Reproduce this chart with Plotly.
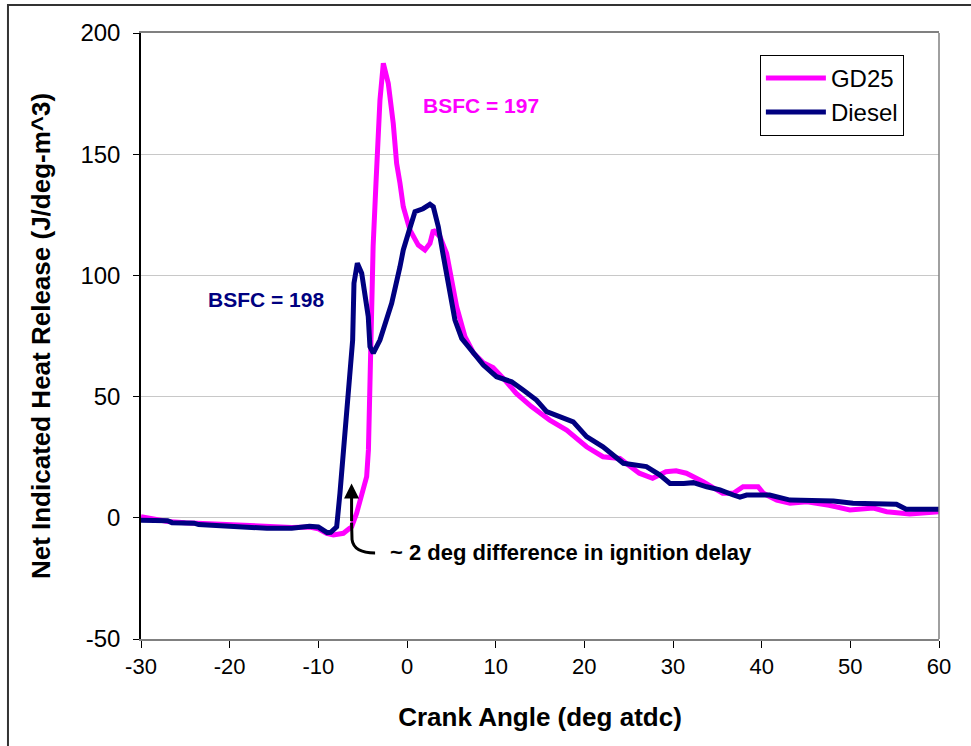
import plotly.graph_objects as go

# ---- data ----
diesel_x = [-30, -27, -26.5, -24, -23.5, -20, -17, -15.8, -13, -11, -10, -9.4, -9, -8.6, -8.2,
            -7.93, -7.56, -7.18, -6.8, -6.43, -6.13, -5.98, -5.6, -5.11, -4.74, -4.37, -4.18,
            -3.8, -3.05, -2.48, -1.73, -0.79, -0.42, 0.2, 0.9, 1.8, 2.59, 2.97, 3.53, 4.0, 4.47,
            5.0, 5.41, 6.17, 7.48, 8.61, 10.1, 11.8, 13.1, 14.6, 15.75, 17.25, 18.75, 20.25,
            22.1, 24.4, 27.0, 28.5, 29.66, 31.2, 32.3, 33.8, 35.3, 36.8, 37.55, 38.3, 40.9,
            43.2, 48.1, 50.3, 55.2, 56.3, 60]
diesel_y = [-1, -1.2, -2, -2.2, -2.8, -3.5, -3.8, -4.3, -4.3, -3.5, -3.8, -5.5, -6.1, -6, -5,
            -3.7, 10.2, 28, 41.7, 58, 73.3, 96.8, 105, 100.9, 92.6, 83, 70.6,
            67.9, 73.3, 80.2, 88.5, 103.6, 110.5, 118, 126.3, 127.5, 129.3, 128.3, 120.1, 110, 100.9,
            90, 81.6, 74, 67.9, 63, 58.2, 56.1, 52.7, 48.6, 43.8, 41.7, 39.6, 33.5,
            29.3, 22.5, 21.1, 17.7, 14.2, 14.2, 14.5, 12.8, 11.5, 9.4, 8.5, 9.4, 9.4,
            7.3, 6.9, 6.0, 5.6, 3.5, 3.5]

gd25_x = [-30, -27, -25, -22, -20, -17, -15, -13, -11, -10, -9.06, -8.3, -7.18, -6.24, -5.68,
          -5.11, -4.55, -4.35, -4.28, -4.22, -4.1, -3.98, -3.82, -3.5, -3.24, -3.05, -2.67,
          -2.11, -1.55, -1.17, -0.79, -0.42, 0.33, 1.27, 2.02, 2.59, 2.97, 3.72, 4.47, 5.04,
          5.6, 6.54, 7.5, 8.6, 9.7, 11, 12.3, 14, 16.1, 18.0, 20.25, 22.1, 24.0, 26.2, 27.7,
          29.2, 30.35, 31.5, 33.4, 35.6, 36.8, 37.9, 39.6, 40.2, 41.7, 43.2, 45.1, 47.6,
          49.95, 52.6, 54.1, 56.7, 60]
gd25_y = [0.5, -1.5, -2, -2.5, -3, -3.5, -4, -4, -3.8, -4.5, -6.4, -7.1, -6.4, -3.7, 1.9,
          10.1, 17, 28, 41.7, 55.5, 69.2, 87.1, 112, 138, 155.9, 172.4, 187.5,
          179.2, 162.7, 146.2, 138, 128.3, 118.7, 112.5, 110.5, 113.2, 118.7, 116, 109.1, 98.1,
          87.1, 74.7, 68, 64, 62, 57, 51.4, 46, 40.3, 36.2, 29.3, 25.2, 24.5, 18.4, 16.3,
          19.0, 19.4, 18.4, 14.9, 10.1, 10.1, 12.8, 12.8, 10.1, 7.3, 6.0, 6.6, 5.2,
          3.2, 4.0, 2.5, 1.6, 2.5]

x_ticks = [-30, -20, -10, 0, 10, 20, 30, 40, 50, 60]
x_tick_labels = ["-30", "-20", "-10", "0", "10", "20", "30", "40", "50", "60"]
y_ticks = [-50, 0, 50, 100, 150, 200]
y_tick_labels = ["-50", "0", "50", "100", "150", "200"]

FONT = "Arial, 'Liberation Sans', sans-serif"

fig = go.Figure()
fig.add_trace(go.Scatter(x=gd25_x, y=gd25_y, mode="lines", name="GD25",
                         line=dict(color="#FF00FF", width=5)))
fig.add_trace(go.Scatter(x=diesel_x, y=diesel_y, mode="lines", name="Diesel",
                         line=dict(color="#000080", width=5)))

fig.update_layout(
    width=971, height=746,
    margin=dict(l=141, r=32, t=33, b=107),
    paper_bgcolor="white", plot_bgcolor="white",
    font=dict(family=FONT, color="black"),
    showlegend=True,
    legend=dict(x=0.956, y=0.964, xanchor="right", yanchor="top",
                bordercolor="black", borderwidth=1, bgcolor="white",
                font=dict(size=24, family=FONT), tracegroupgap=0,
                itemwidth=60),
    xaxis=dict(range=[-30, 60], tickvals=x_ticks, ticktext=x_tick_labels,
               ticks="outside", ticklen=7,
               tickcolor="black", showgrid=False, zeroline=False,
               showline=True, linecolor="#808080", linewidth=1.5, mirror=True,
               tickfont=dict(size=22), title=dict(text="<b>Crank Angle (deg atdc)</b>",
                                                  font=dict(size=26), standoff=30)),
    yaxis=dict(range=[-50, 200], tickvals=y_ticks, ticktext=y_tick_labels,
               ticks="outside", ticklen=6, ticklabelstandoff=8,
               tickcolor="black", showgrid=True, gridcolor="#C8C8C8", gridwidth=1,
               zeroline=False, showline=True, linecolor="black", linewidth=1.5,
               tickfont=dict(size=24),
               title=dict(text="<b>Net Indicated Heat Release (J/deg-m^3)</b>",
                          font=dict(size=26), standoff=22)),
)

# right border of plot area (gray)
fig.add_shape(type="line", xref="paper", yref="paper", x0=1, x1=1, y0=0, y1=1,
              line=dict(color="#808080", width=1.5))
# outer figure border (left and top edges visible)
fig.add_shape(type="rect", xref="paper", yref="paper", x0=-0.1667, x1=1.2, y0=-0.4, y1=1.0462,
              line=dict(color="#333333", width=2))

fig.add_annotation(x=8.3, y=170, text="<b>BSFC = 197</b>", showarrow=False,
                   font=dict(size=21, color="#FF00FF"))
fig.add_annotation(x=-15.9, y=90, text="<b>BSFC = 198</b>", showarrow=False,
                   font=dict(size=21, color="#000080"))
fig.add_annotation(x=-2.15, y=-14.5, text="<b>~ 2 deg difference in ignition delay</b>",
                   showarrow=False, xanchor="left", font=dict(size=22, color="black"))
# curved arrow
fig.add_shape(type="path", xref="x", yref="y",
              path="M -6.25,-2 L -6.2,-9 Q -6.0,-14.5 -3.6,-14.5",
              line=dict(color="black", width=3))
fig.add_annotation(x=-6.25, y=14.2, ax=-6.25, ay=-2, axref="x", ayref="y", xref="x", yref="y",
                   text="", showarrow=True, arrowhead=2, arrowsize=1, arrowwidth=3,
                   arrowcolor="black")

fig.write_html("out.html")
